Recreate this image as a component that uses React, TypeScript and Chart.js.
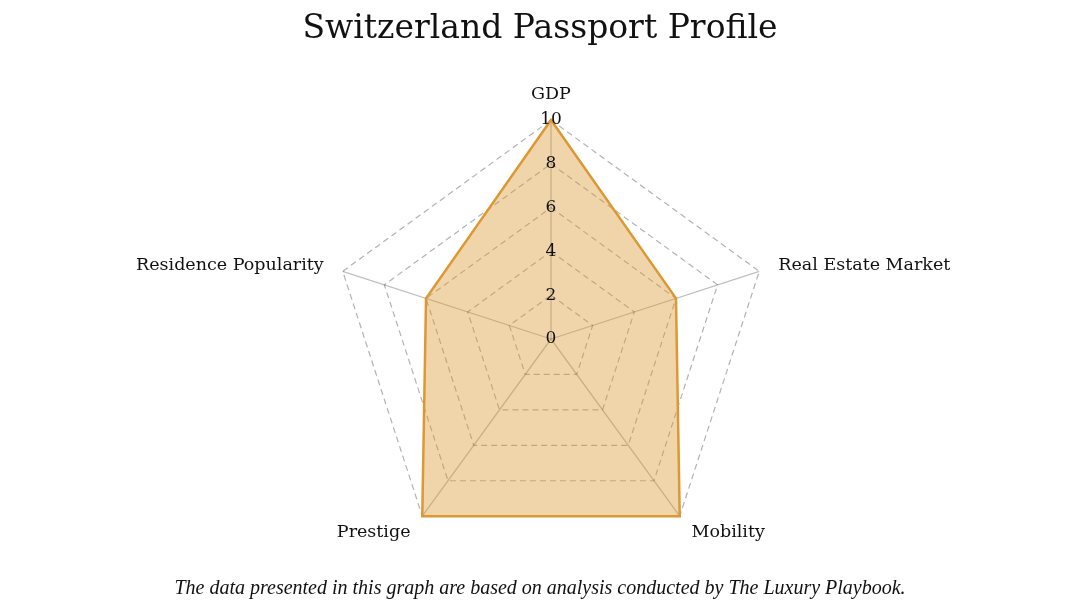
import React, { useEffect, useRef } from "react";
import { Chart, registerables } from "chart.js";

Chart.register(...registerables);

const categories = ["GDP", "Real Estate Market", "Mobility", "Prestige", "Residence Popularity"];
const values = [10, 6, 10, 10, 6];
const tickValues = [0, 2, 4, 6, 8, 10];

const FONT = "'DejaVu Serif', 'Liberation Serif', serif";
const FOOT_FONT = "'Liberation Serif', 'DejaVu Serif', serif";

const labelPlugin = {
  id: "customLabels",
  afterDatasetsDraw(chart: any) {
    const scale = chart.scales.r;
    const ctx = chart.ctx;
    ctx.save();
    ctx.fillStyle = "#111";
    // tick labels
    ctx.font = `17px ${FONT}`;
    ctx.textAlign = "center";
    ctx.textBaseline = "middle";
    tickValues.forEach((v) => {
      const p = scale.getPointPositionForValue(0, v);
      ctx.fillText(String(v), p.x, p.y);
    });
    // point labels
    ctx.font = `17.5px ${FONT}`;
    categories.forEach((c, i) => {
      const p = scale.getPointPosition(i, scale.drawingArea + 20);
      const dx = p.x - scale.xCenter;
      let y = p.y;
      if (Math.abs(dx) < 1) {
        ctx.textAlign = "center";
        y -= 6;
      } else if (dx > 0) {
        ctx.textAlign = "left";
      } else {
        ctx.textAlign = "right";
      }
      ctx.textBaseline = "middle";
      ctx.fillText(c, p.x, y);
    });
    ctx.restore();
  },
};

export default function App() {
  const ref = useRef<HTMLCanvasElement | null>(null);
  useEffect(() => {
    if (!ref.current) return;
    const chart = new Chart(ref.current, {
      type: "radar",
      data: {
        labels: categories,
        datasets: [
          {
            label: "Switzerland",
            data: values,
            backgroundColor: "rgba(217,150,46,0.4)",
            borderColor: "rgb(221,152,52)",
            borderWidth: 2.5,
            pointRadius: 0,
            pointHoverRadius: 0,
          },
        ],
      },
      options: {
        animation: false,
        responsive: true,
        maintainAspectRatio: false,
        layout: { padding: 0 },
        plugins: {
          legend: { display: false },
          tooltip: { enabled: false },
          title: {
            display: true,
            text: "Switzerland Passport Profile",
            color: "#111",
            font: { family: FONT, size: 33, weight: "normal", lineHeight: 1 },
            padding: { top: 5, bottom: 74 },
          },
          subtitle: {
            display: true,
            position: "bottom",
            text: "The data presented in this graph are based on analysis conducted by The Luxury Playbook.",
            color: "#111",
            font: { family: FOOT_FONT, size: 20, style: "italic", weight: "normal", lineHeight: 1 },
            padding: { top: 21, bottom: 0 },
          },
        },
        scales: {
          r: {
            min: 0,
            max: 10,
            afterFit: (scale: any) => {
              scale.xCenter = Math.floor((scale.left + scale.right) / 2) + 11;
            },
            ticks: { stepSize: 2, display: false },
            grid: {
              color: "rgba(0,0,0,0.3)",
              borderDash: [6, 4],
              lineWidth: 1.2,
            },
            border: { dash: [6, 4] } as any,
            angleLines: { color: "rgba(0,0,0,0.25)", lineWidth: 1.3 },
            pointLabels: { display: false },
          },
        },
      } as any,
      plugins: [labelPlugin],
    });
    return () => chart.destroy();
  }, []);
  return (
    <div style={{ width: 1064, height: 591, position: "relative" }}>
      <canvas ref={ref} />
    </div>
  );
}
